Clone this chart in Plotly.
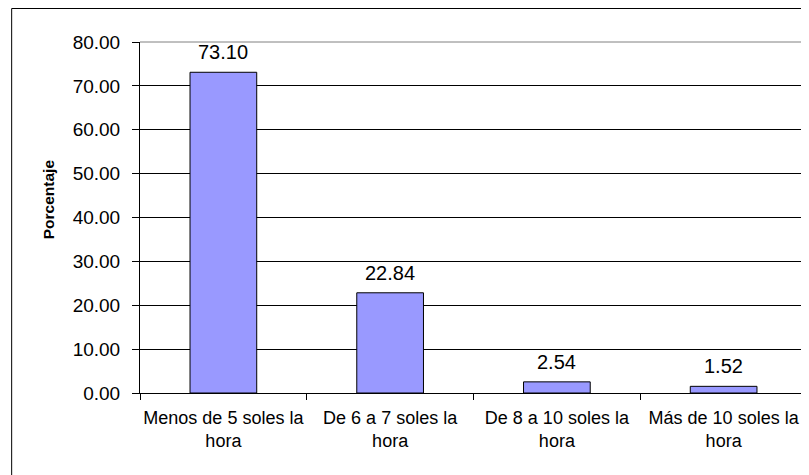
import plotly.graph_objects as go

categories = ["Menos de 5 soles la<br>hora", "De 6 a 7 soles la<br>hora",
              "De 8 a 10 soles la<br>hora", "Más de 10 soles la<br>hora"]
values = [73.10, 22.84, 2.54, 1.52]
y_title = "Porcentaje"

FONT = "Liberation Sans, Arial, sans-serif"

fig = go.Figure(go.Bar(
    x=categories, y=values,
    marker=dict(color="#9999FF", line=dict(color="#000000", width=1)),
    cliponaxis=False,
))

# value labels above bars
for c, v in zip(categories, values):
    fig.add_annotation(x=c, y=v, text=f"{v:.2f}", showarrow=False,
                       yanchor="bottom", yshift=7,
                       font=dict(family=FONT, size=20, color="#000000"))

# y axis title
fig.add_annotation(xref="paper", yref="paper", x=-0.137, y=0.551, text="<b>" + y_title + "</b>",
                   textangle=-90, showarrow=False, xanchor="center", yanchor="middle",
                   font=dict(family=FONT, size=15.5, color="#000000"))

fig.update_layout(
    width=801, height=467,
    margin=dict(l=132, r=2, t=34, b=82, autoexpand=False),
    paper_bgcolor="#FFFFFF", plot_bgcolor="#FFFFFF",
    bargap=0.6, showlegend=False,
    font=dict(family=FONT, size=18, color="#000000"),
)
fig.update_yaxes(
    range=[0, 80], dtick=10, tickformat=".2f",
    showgrid=True, gridcolor="#000000", gridwidth=1,
    showline=True, linecolor="#000000", linewidth=1,
    ticks="outside", ticklen=7, tickcolor="#000000",
    ticklabelstandoff=8, automargin=False,
    zeroline=False,
    tickfont=dict(family=FONT, size=19, color="#000000"),
)
fig.update_xaxes(
    showline=True, linecolor="#000000", linewidth=1,
    ticks="outside", ticklen=6, tickcolor="#000000", tickson="boundaries",
    tickangle=0, automargin=False, ticklabelstandoff=8,
    tickfont=dict(family=FONT, size=18, color="#000000"),
    showgrid=False,
)
# plot area top and right border (gray)
fig.add_shape(type="line", xref="paper", yref="paper", x0=1, x1=1, y0=0, y1=1,
              line=dict(color="#808080", width=2))
fig.add_shape(type="line", xref="paper", yref="paper", x0=0, x1=1, y0=1, y1=1,
              line=dict(color="#808080", width=1))
# outer chart border
fig.add_shape(type="rect", xref="paper", yref="paper", x0=-0.1924, x1=1.02, y0=-0.3, y1=1.0954,
              line=dict(color="#000000", width=1), fillcolor="rgba(0,0,0,0)")

fig.write_html("out.html")
